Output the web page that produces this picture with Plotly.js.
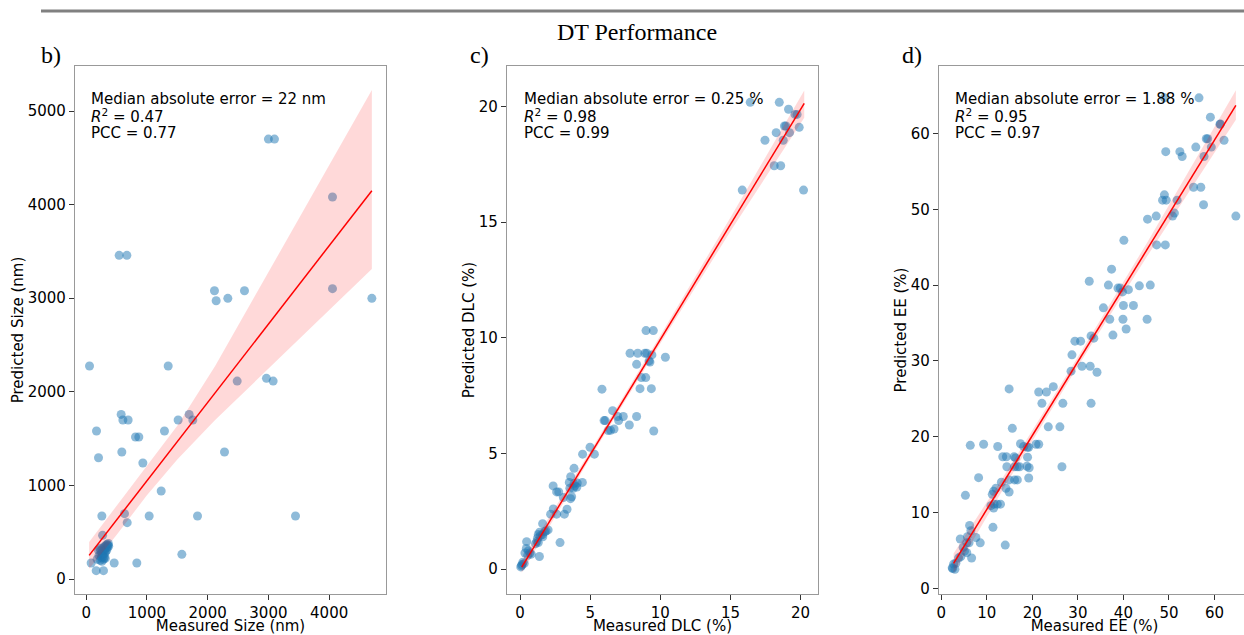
<!DOCTYPE html>
<html>
<head>
<meta charset="utf-8">
<script src="https://cdn.plot.ly/plotly-3.0.1.min.js"></script>
<style>
html,body{margin:0;padding:0;overflow:hidden;background:#fff;}
#chart{width:1250px;height:635px;}
</style>
</head>
<body>
<div id="chart"></div>
<script>
// ---------- Panel b: Size (nm) ----------
const sizeMeasured = [3000,3100,4055,543,670,2112,2140,2332,2606,4055,4703,55,1350,2486,2968,3078,576,604,691,1514,1695,1756,170,1289,812,867,587,2277,203,933,1235,258,631,675,1037,1833,3446,270,1575,82,461,834,165,285,
  210,230,240,250,260,265,270,280,285,290,300,305,310,320,325,330,340,345,350,360,365,370,280,260,240,225,300,200,180,315];
const sizePredicted = [4700,4700,4081,3458,3458,3080,2973,2999,3080,3102,2999,2276,2276,2115,2144,2115,1759,1699,1699,1699,1759,1699,1581,1581,1517,1517,1357,1357,1296,1239,940,673,698,602,673,673,673,467,264,171,171,171,89,89,
  250,200,300,230,280,320,260,300,210,340,270,310,350,290,330,360,310,370,340,360,380,350,240,190,260,330,230,310,210,220];
const sizeFitX = [49,4703];
const sizeFitY = [253,4149];
const sizeBandX = [49,500,1000,1500,2123,3000,4000,4703];
const sizeBandUpper = [395,781,1203,1638,2276,3278,4420,5224];
const sizeBandLower = [110,470,895,1278,1699,2247,2872,3312];

// ---------- Panel c: DLC (%) ----------
const dlcMeasured = [16.41,18.48,19.14,19.6,19.75,18.85,18.95,18.26,19.21,19.9,17.46,18.76,18.12,18.58,15.84,20.21,8.98,9.5,
  7.84,8.39,8.9,9.03,9.4,10.36,8.31,9.26,9.2,8.65,8.96,8.55,9.36,5.84,6.6,5.99,6.07,6.96,7.03,7.36,8.31,7.79,6.29,6.7,6.45,9.53,
  4.99,4.46,5.3,3.85,3.61,3.51,3.85,4.08,4.44,3.55,3.8,4.05,2.36,2.61,2.76,3.68,3.6,3.09,3.35,2.37,2.18,2.61,3.16,
  1.61,1.4,1.6,1.75,1.45,1.62,1.3,1.25,2.85,1.2,1.1,1.3,0.47,0.45,0.6,0.7,0.8,0.35,1.38,0.2,0.1,0.15,0.05,0.3,1.85,3.9,0.55,2.0];
const dlcPredicted = [20.17,20.17,19.87,19.65,19.65,19.15,19.15,18.86,18.86,19.09,18.53,18.53,17.43,17.43,16.38,16.38,10.31,10.31,
  9.33,9.33,9.33,9.33,9.26,9.16,8.85,8.95,9.0,8.28,8.28,7.8,7.8,7.78,6.85,6.42,6.42,6.6,6.42,6.6,6.6,6.23,5.99,6.06,6.0,5.97,
  5.27,4.97,4.97,4.36,4.0,3.75,3.7,3.72,3.75,3.5,3.5,3.55,3.6,3.34,3.34,3.13,3.05,3.1,2.59,2.6,2.38,2.38,2.38,
  1.97,1.6,1.5,1.62,1.45,1.4,1.5,1.35,1.15,1.2,1.1,1.15,1.19,0.9,0.8,0.7,0.65,0.7,0.55,0.3,0.15,0.2,0.1,0.25,1.65,3.6,0.6,1.7];
const dlcFitX = [0.12,20.26];
const dlcFitY = [0.09,20.13];
const dlcBandX = [0.12,5,10,15,20.26];
const dlcBandUpper = [0.35,5.1,10.1,15.2,20.68];
const dlcBandLower = [-0.15,4.8,9.75,14.6,19.5];

// ---------- Panel d: EE (%) ----------
const eeMeasured = [56.6,49.0,59.1,61.2,61.3,58.2,58.5,62.1,49.3,52.4,52.9,55.9,57.7,59.3,55.4,57.0,57.6,49.0,48.6,49.4,51.8,51.2,50.8,64.7,45.3,47.2,47.3,49.2,
  40.1,37.4,32.5,36.7,38.8,39.3,39.8,41.1,43.5,45.9,35.6,40.0,42.2,37.0,39.9,45.2,40.6,37.7,32.9,33.5,29.35,30.6,28.7,28.5,30.9,32.7,34.2,
  32.9,26.7,22.1,24.6,21.4,23.1,14.9,15.6,23.5,26.05,6.37,9.3,12.4,17.4,18.1,18.9,19.2,20.8,21.4,13.5,14.3,16.0,16.3,18.95,
  14.4,16.1,16.7,17.2,18.8,19.3,26.5,13.2,14.9,16.1,16.7,19.2,8.2,14.2,14.9,12.0,11.5,11.2,5.3,11.6,12.3,13.0,10.9,11.5,11.35,14.05,
  6.22,4.17,6.5,5.75,6.1,5.6,7.6,8.56,5.1,4.8,5.6,6.66,3.8,4.3,3.2,2.7,2.4,3.0,2.5];
const eePredicted = [64.7,64.7,62.15,61.2,61.25,59.3,59.3,59.1,57.6,57.6,56.96,58.2,56.96,58.2,52.9,52.9,50.6,51.9,51.2,51.2,51.2,49.5,49.1,49.1,48.7,49.1,45.3,45.3,
  45.9,42.1,40.5,40.0,39.6,39.6,39.1,39.4,39.9,40.0,37.0,37.3,37.3,35.5,35.5,35.5,34.2,33.4,33.3,33.0,32.6,32.6,30.8,28.65,29.3,29.3,28.5,
  24.4,24.4,24.4,26.6,25.9,25.9,26.3,21.1,21.3,21.3,18.86,19.0,18.7,19.07,18.7,18.6,18.6,19.0,19.0,17.36,17.36,17.36,17.2,17.3,
  16.04,16.04,16.04,16.04,16.1,15.9,16.04,14.0,14.3,14.3,14.3,14.55,14.6,13.2,12.7,13.2,12.8,12.4,12.26,11.1,11.1,11.1,10.9,10.6,8.04,5.7,
  8.3,6.5,7.6,6.8,6.0,6.0,6.7,6.0,4.9,5.4,4.7,4.0,4.0,4.2,3.3,3.2,2.7,2.5,2.6];
const eeFitX = [2.7,64.7];
const eeFitY = [3.3,63.7];
const eeBandX = [2.7,15,30,45,64.7];
const eeBandUpper = [4.6,16.0,30.5,45.4,65.7];
const eeBandLower = [2.0,14.5,29.3,43.6,61.8];

const statsSize = ["Median absolute error = 22 nm", "<i>R</i><sup>2</sup> = 0.47", "PCC = 0.77"];
const statsDlc  = ["Median absolute error = 0.25 %", "<i>R</i><sup>2</sup> = 0.98", "PCC = 0.99"];
const statsEe   = ["Median absolute error = 1.88 %", "<i>R</i><sup>2</sup> = 0.95", "PCC = 0.97"];

// ---------- layout geometry (pixels) ----------
const W = 1250, H = 635;
const M = {l: 75, r: 0, t: 66, b: 41};
const PW = W - M.l - M.r, PH = H - M.t - M.b;
const px = v => (v - M.l) / PW;          // pixel x -> paper x
const py = v => (H - M.b - v) / PH;      // pixel y -> paper y
const panels = [
  {x: [75, 386], xa: 'x', ya: 'y', mx: sizeMeasured, my: sizePredicted, fx: sizeFitX, fy: sizeFitY, bx: sizeBandX, bu: sizeBandUpper, bl: sizeBandLower, stats: statsSize, label: 'b)', labelX: 39, textX: 89},
  {x: [507, 818], xa: 'x2', ya: 'y2', mx: dlcMeasured, my: dlcPredicted, fx: dlcFitX, fy: dlcFitY, bx: dlcBandX, bu: dlcBandUpper, bl: dlcBandLower, stats: statsDlc, label: 'c)', labelX: 468, textX: 522},
  {x: [939, 1250], xa: 'x3', ya: 'y3', mx: eeMeasured, my: eePredicted, fx: eeFitX, fy: eeFitY, bx: eeBandX, bu: eeBandUpper, bl: eeBandLower, stats: statsEe, label: 'd)', labelX: 900, textX: 953}
];

const traces = [];
const annotations = [];
panels.forEach(p => {
  traces.push({type: 'scatter', mode: 'markers', x: p.mx, y: p.my, xaxis: p.xa, yaxis: p.ya,
    marker: {color: '#1f77b4', size: 9, opacity: 0.5, line: {width: 0}}, hoverinfo: 'x+y'});
  traces.push({type: 'scatter', mode: 'lines', x: p.bx.concat(p.bx.slice().reverse()),
    y: p.bu.concat(p.bl.slice().reverse()), xaxis: p.xa, yaxis: p.ya,
    fill: 'toself', fillcolor: 'rgba(255,0,0,0.15)', line: {width: 0}, hoverinfo: 'skip'});
  traces.push({type: 'scatter', mode: 'lines', x: p.fx, y: p.fy, xaxis: p.xa, yaxis: p.ya,
    line: {color: '#ff0000', width: 1.5}, hoverinfo: 'skip'});
  annotations.push({text: p.label, xref: 'paper', yref: 'paper', x: px(p.labelX), y: py(55),
    xanchor: 'left', yanchor: 'middle', showarrow: false,
    font: {family: 'Liberation Serif', size: 24, color: '#000'}});
  p.stats.forEach((s, i) => {
    annotations.push({text: s, xref: 'paper', yref: 'paper', x: px(p.textX), y: py(99 + 17 * i),
      xanchor: 'left', yanchor: 'middle', showarrow: false,
      font: {family: 'DejaVu Sans', size: 15, color: '#000'}});
  });
});

const axisBase = {
  showgrid: false, zeroline: false, showline: true, mirror: true,
  linecolor: '#999999', linewidth: 1.3,
  ticks: 'outside', ticklen: 5, tickwidth: 1.2, tickcolor: '#333333',
  tickfont: {family: 'DejaVu Sans', size: 15, color: '#000'},
  automargin: false
};
function xa(dom, range, dtick, title) {
  return Object.assign({}, axisBase, {domain: [Math.max(0, px(dom[0])), Math.min(1, px(dom[1]))], range: range, dtick: dtick, tick0: 0,
    title: {text: title, standoff: 3, font: {family: 'DejaVu Sans', size: 15, color: '#000'}}});
}
function ya(anchor, range, dtick, title) {
  return Object.assign({}, axisBase, {domain: [0, 1], anchor: anchor, range: range, dtick: dtick, tick0: 0,
    title: {text: title, standoff: 0, font: {family: 'DejaVu Sans', size: 15, color: '#000'}}});
}

const layout = {
  width: W, height: H,
  margin: M,
  paper_bgcolor: '#fff', plot_bgcolor: '#fff',
  showlegend: false,
  font: {family: 'DejaVu Sans', size: 15, color: '#000'},
  title: {text: 'DT Performance', x: 637 / W, y: 1 - 32 / H, xanchor: 'center', yanchor: 'middle', xref: 'container', yref: 'container',
    font: {family: 'Liberation Serif', size: 24, color: '#000'}},
  xaxis: Object.assign(xa(panels[0].x, [-184, 4936], 1000, 'Measured Size (nm)'), {anchor: 'y'}),
  yaxis: ya('x', [-160, 5481], 1000, 'Predicted Size (nm)'),
  xaxis2: Object.assign(xa(panels[1].x, [-0.93, 21.24], 5, 'Measured DLC (%)'), {anchor: 'y2'}),
  yaxis2: ya('x2', [-1.07, 21.74], 5, 'Predicted DLC (%)'),
  xaxis3: Object.assign(xa(panels[2].x, [-0.5, 67.8], 10, 'Measured EE (%)'), {anchor: 'y3'}),
  yaxis3: ya('x3', [-0.75, 68.9], 10, 'Predicted EE (%)'),
  annotations: annotations,
  shapes: [{type: 'line', xref: 'paper', yref: 'paper', x0: px(41), x1: 1, y0: py(11), y1: py(11),
    line: {color: '#808080', width: 3}}]
};

Plotly.newPlot('chart', traces, layout, {displayModeBar: false, staticPlot: false});
</script>
</body>
</html>
